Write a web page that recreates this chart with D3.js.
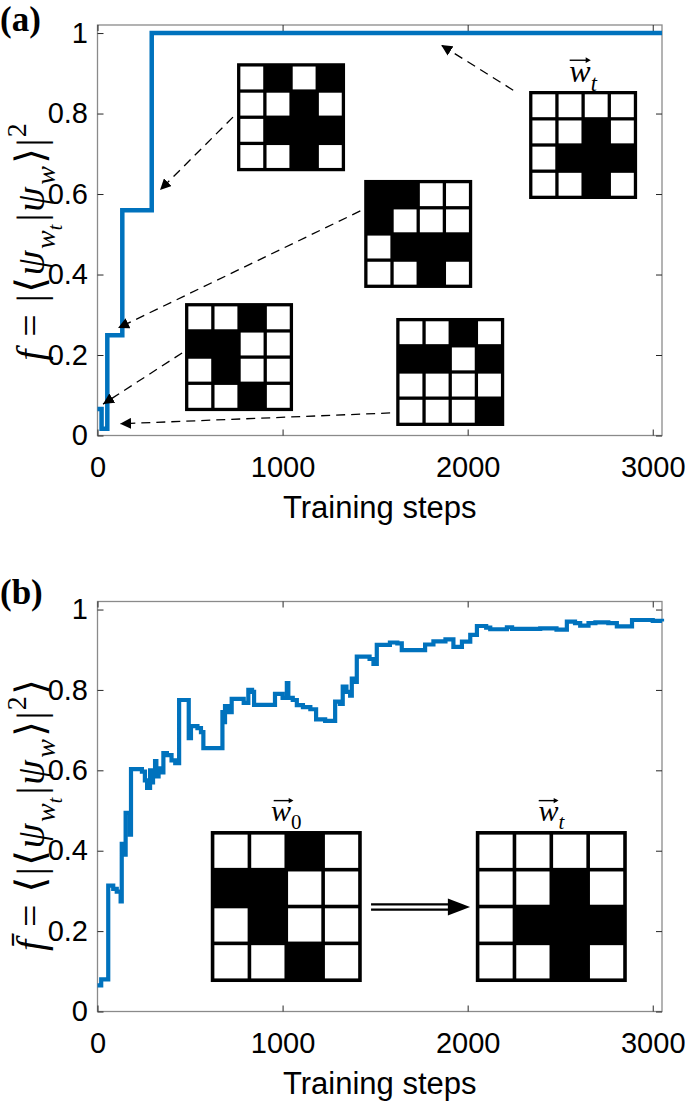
<!DOCTYPE html>
<html>
<head>
<meta charset="utf-8">
<script src="https://d3js.org/d3.v7.min.js"></script>
<style>
  body { margin: 0; background: #fff; }
  .tick text { font-family: "Liberation Sans", Arial, sans-serif; font-size: 29px; fill: #000; }
  .xlabel { font-family: "Liberation Sans", Arial, sans-serif; font-size: 31px; fill: #000; }
  .math { font-family: "Liberation Serif", "DejaVu Serif", serif; fill: #000; }
  .panel { font-family: "Liberation Serif", serif; font-weight: bold; font-size: 35px; }
</style>
</head>
<body>
<div id="fig"></div>
<script>
// (a) fidelity of a single run, step function
const stepsA = [0, 22, 53, 134, 293, 3050];
const fidA = [0.066, 0.017, 0.249, 0.56, 1.0, 1.0];

// (b) averaged fidelity, step function
const stepsB = [0, 20, 58, 85, 104, 125, 131, 148, 152, 175, 181, 240, 256, 268, 284, 290, 300, 311, 318, 330, 340,
  356, 375, 400, 420, 441, 493, 505, 540, 559, 572, 675, 681, 689, 707, 725, 790, 815, 835, 846, 959, 1000,
  1023, 1031, 1055, 1077, 1110, 1150, 1181, 1230, 1284, 1310, 1325, 1345, 1365, 1374, 1390, 1401, 1470, 1491,
  1509, 1580, 1620, 1644, 1770, 1815, 1880, 1923, 1969, 2014, 2050, 2100, 2122, 2212, 2240, 2392, 2480, 2536,
  2580, 2608, 2653, 2690, 2760, 2806, 2888, 3000, 3050];
const fidB = [0.065, 0.08, 0.313, 0.305, 0.298, 0.274, 0.417, 0.39, 0.494, 0.44, 0.603, 0.597, 0.575, 0.556, 0.60, 0.57, 0.59, 0.623, 0.585, 0.605, 0.595,
  0.643, 0.638, 0.625, 0.618, 0.775, 0.68, 0.71, 0.705, 0.695, 0.655, 0.745, 0.72, 0.76, 0.745, 0.778, 0.768, 0.80, 0.795, 0.763, 0.79, 0.78,
  0.817, 0.78, 0.775, 0.762, 0.757, 0.752, 0.727, 0.723, 0.771, 0.765, 0.808, 0.795, 0.786, 0.828, 0.82, 0.883, 0.877, 0.865,
  0.912, 0.918, 0.916, 0.899, 0.913, 0.921, 0.926, 0.907, 0.92, 0.937, 0.959, 0.955, 0.951, 0.956, 0.952, 0.953, 0.95, 0.97,
  0.966, 0.96, 0.966, 0.968, 0.966, 0.958, 0.974, 0.972, 0.97];

const xTicks = [0, 1000, 2000, 3000];
const yTicks = [0, 0.2, 0.4, 0.6, 0.8, 1];
const yTickLabels = ["0", "0.2", "0.4", "0.6", "0.8", "1"];

// 4x4 weight patterns, 1 = black
const patA1 = [[0,1,0,1],[0,0,1,0],[0,1,1,1],[0,0,1,0]];
const patTarget = [[0,0,0,0],[0,0,1,0],[0,1,1,1],[0,0,1,0]];
const patA3 = [[1,1,0,0],[1,0,0,0],[0,1,1,1],[0,0,1,0]];
const patInit = [[0,0,1,0],[1,1,0,0],[0,1,0,0],[0,0,1,0]];
const patA5 = [[0,0,1,0],[1,1,0,1],[0,0,0,0],[0,0,0,1]];

const blue = "#0072BD";

const svg = d3.select("#fig").append("svg")
  .attr("width", 685).attr("height", 1102);

svg.append("defs").append("marker")
  .attr("id", "head").attr("viewBox", "0 0 10 10")
  .attr("refX", 10).attr("refY", 5)
  .attr("markerWidth", 11).attr("markerHeight", 11)
  .attr("markerUnits", "userSpaceOnUse")
  .attr("orient", "auto")
  .append("path").attr("d", "M0,0 L10,5 L0,10 Z").attr("fill", "#000");

const x = d3.scaleLinear().domain([0, 3050]).range([97.5, 662]);
const ya = d3.scaleLinear().domain([0, 1.02]).range([435.5, 25]);
const yb = d3.scaleLinear().domain([0, 1.02]).range([1011.5, 601.5]);

function drawAxes(y) {
  const g = svg.append("g").style("color", "#262626");
  const [x0, x1] = x.range();
  const [yBot, yTop] = y.range();
  g.append("rect")
    .attr("x", x0).attr("y", yTop).attr("width", x1 - x0).attr("height", yBot - yTop)
    .attr("fill", "none").attr("stroke", "#8a8a8a").attr("stroke-width", 1.3);

  g.append("g").attr("transform", `translate(0,${yBot})`)
    .call(d3.axisBottom(x).tickValues(xTicks).tickSize(-6).tickFormat(d3.format("d")))
    .call(a => a.select(".domain").remove())
    .call(a => a.selectAll("text").attr("y", 41.5).attr("dy", null));
  g.append("g").attr("transform", `translate(0,${yTop})`)
    .call(d3.axisTop(x).tickValues(xTicks).tickSize(-6).tickFormat(""))
    .call(a => a.select(".domain").remove());
  g.append("g").attr("transform", `translate(${x0},0)`)
    .call(d3.axisLeft(y).tickValues(yTicks).tickSize(-6).tickPadding(9.5)
      .tickFormat((d, i) => yTickLabels[i]))
    .call(a => a.select(".domain").remove());
  g.append("g").attr("transform", `translate(${x1},0)`)
    .call(d3.axisRight(y).tickValues(yTicks).tickSize(-6).tickFormat(""))
    .call(a => a.select(".domain").remove());

  svg.append("text").attr("class", "xlabel")
    .attr("x", (x0 + x1) / 2).attr("y", yBot + 82.5)
    .attr("text-anchor", "middle").text("Training steps");
}

function drawLine(steps, vals, y, w) {
  svg.append("path")
    .datum(d3.zip(steps, vals))
    .attr("fill", "none").attr("stroke", blue).attr("stroke-width", w)
    .attr("stroke-linejoin", "miter")
    .attr("d", d3.line().x(d => x(d[0])).y(d => y(d[1])).curve(d3.curveStepAfter));
}

function drawGrid(pat, px, py, size, lw) {
  const g = svg.append("g");
  const cw = (size - 5 * lw) / 4;
  g.append("rect").attr("x", px).attr("y", py).attr("width", size).attr("height", size).attr("fill", "#000");
  pat.forEach((row, r) => row.forEach((v, c) => {
    if (!v) g.append("rect")
      .attr("x", px + lw + c * (cw + lw)).attr("y", py + lw + r * (cw + lw))
      .attr("width", cw).attr("height", cw).attr("fill", "#fff");
  }));
}

// math text with sub/superscripts: lvl 0 normal, 1 sub, 2 subsub, -1 sup; gap = space before, in em
function mathParts(text, parts, fs) {
  const shift = { 0: 0, 1: 0.28, 2: 0.45, "-1": -0.45 };
  const scale = { 0: 1, 1: 0.7, 2: 0.5, "-1": 0.7 };
  let cur = 0;
  parts.forEach(p => {
    const lvl = p.lvl || 0;
    const s = shift[lvl] * fs;
    text.append("tspan")
      .attr("dx", (p.gap || 0) * fs)
      .attr("dy", s - cur)
      .attr("font-size", fs * scale[lvl])
      .attr("font-style", p.i ? "italic" : "normal")
      .text(p.t);
    cur = s;
  });
}

function vecLabel(cx, base, sub, fs) {
  const t = svg.append("text").attr("class", "math")
    .attr("x", cx).attr("y", base).attr("text-anchor", "middle");
  mathParts(t, [{ t: "w", i: true }, { t: sub, i: !/\d/.test(sub), lvl: 1 }], fs);
  const wx = cx - fs * 0.12;
  svg.append("path")
    .attr("d", `M${wx - fs * 0.3},${base - fs * 0.68} L${wx + fs * 0.3},${base - fs * 0.68}`)
    .attr("stroke", "#000").attr("stroke-width", 1.4);
  svg.append("path")
    .attr("d", `M${wx + fs * 0.36},${base - fs * 0.68} l${-fs * 0.16},${-fs * 0.09} l0,${fs * 0.18} Z`)
    .attr("fill", "#000");
}

function dashArrow(y, s0, v0, s1, v1) {
  svg.append("line")
    .attr("x1", x(s0)).attr("y1", y(v0)).attr("x2", x(s1)).attr("y2", y(v1))
    .attr("stroke", "#000").attr("stroke-width", 1.3).attr("stroke-dasharray", "9,6")
    .attr("marker-end", "url(#head)");
}

// ---------- panel (a) ----------
drawAxes(ya);
drawLine(stepsA, fidA, ya, 4.5);

// insets placed in data coordinates (top-left corner)
drawGrid(patA1, x(754), ya(0.925), 108, 3.3);
drawGrid(patTarget, x(2332), ya(0.856), 108, 3.3);
drawGrid(patA3, x(1441), ya(0.635), 108, 3.3);
drawGrid(patInit, x(473), ya(0.329), 108, 3.3);
drawGrid(patA5, x(1614), ya(0.292), 108, 3.3);
vecLabel(x(2332) + 54, ya(0.856) - 9, "t", 32);

dashArrow(ya, 732, 0.791, 338, 0.61);
dashArrow(ya, 2246, 0.858, 1857, 0.97);
dashArrow(ya, 1420, 0.558, 111, 0.267);
dashArrow(ya, 457, 0.205, 30, 0.078);
dashArrow(ya, 1581, 0.056, 122, 0.029);

const labA = svg.append("text").attr("class", "math")
  .attr("transform", `translate(44,242) rotate(-90)`)
  .attr("text-anchor", "middle");
mathParts(labA, [
  { t: "f", i: true }, { t: "=", gap: 0.32 }, { t: "|", gap: 0.3 }, { t: "⟨", gap: 0.04 },
  { t: "ψ", i: true, gap: 0.04 }, { t: "w", i: true, lvl: 1, gap: 0.04 }, { t: "t", i: true, lvl: 2 },
  { t: "|", gap: 0.08 }, { t: "ψ", i: true, gap: 0.04 }, { t: "w", i: true, lvl: 1, gap: 0.06 },
  { t: "⟩", gap: 0.06 }, { t: "|", gap: 0.04 }, { t: "2", lvl: -1, gap: 0.03 }
], 40);

svg.append("text").attr("class", "panel").attr("x", 0).attr("y", 31).text("(a)");

// ---------- panel (b) ----------
drawAxes(yb);
drawLine(stepsB, fidB, yb, 4.2);

drawGrid(patInit, x(612), yb(0.449), 151, 3.6);
drawGrid(patTarget, x(2044), yb(0.449), 151, 3.6);
vecLabel(x(612) + 75.5, yb(0.449) - 10, "0", 30);
vecLabel(x(2044) + 75.5, yb(0.449) - 10, "t", 30);

// double arrow between the two grids
const arrY = yb(0.26);
[-2.6, 2.6].forEach(o => svg.append("line")
  .attr("x1", x(1478)).attr("x2", x(1950)).attr("y1", arrY + o).attr("y2", arrY + o)
  .attr("stroke", "#000").attr("stroke-width", 2.2));
svg.append("path")
  .attr("d", `M${x(2013)},${arrY} L${x(1893)},${arrY - 8.5} L${x(1893)},${arrY + 8.5} Z`)
  .attr("fill", "#000");

const labB = svg.append("text").attr("class", "math")
  .attr("transform", `translate(44,815) rotate(-90)`)
  .attr("text-anchor", "middle");
mathParts(labB, [
  { t: "f\u0304", i: true }, { t: "=", gap: 0.32 }, { t: "⟨", gap: 0.3 }, { t: "|", gap: 0.04 }, { t: "⟨", gap: 0.04 },
  { t: "ψ", i: true, gap: 0.04 }, { t: "w", i: true, lvl: 1, gap: 0.04 }, { t: "t", i: true, lvl: 2 },
  { t: "|", gap: 0.08 }, { t: "ψ", i: true, gap: 0.04 }, { t: "w", i: true, lvl: 1, gap: 0.06 },
  { t: "⟩", gap: 0.06 }, { t: "|", gap: 0.04 }, { t: "2", lvl: -1, gap: 0.03 }, { t: "⟩", gap: 0.04 }
], 40);

svg.append("text").attr("class", "panel").attr("x", 0).attr("y", 604).text("(b)");
</script>
</body>
</html>
